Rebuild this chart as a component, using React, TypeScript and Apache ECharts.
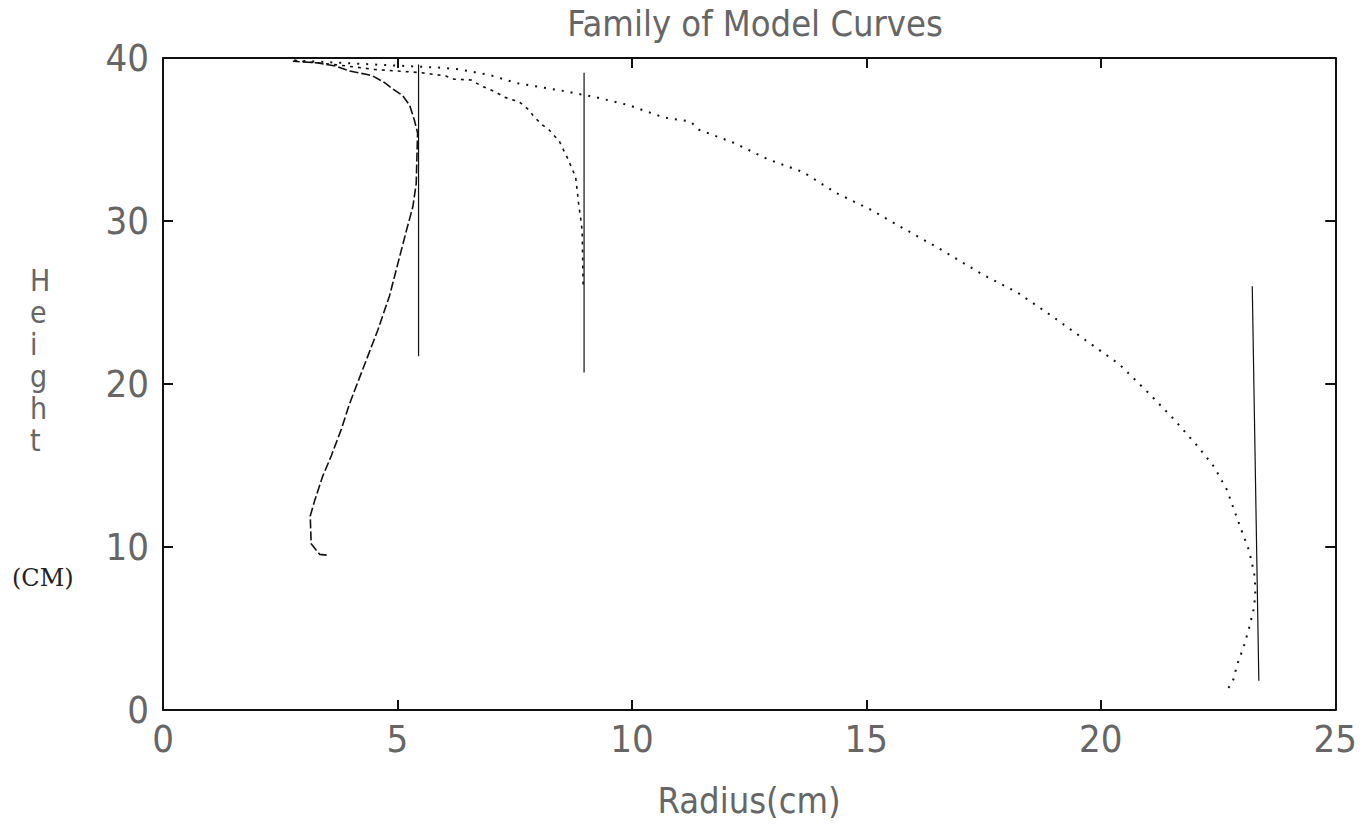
import React, { useEffect, useRef } from "react";
import * as echarts from "echarts";

// Axis ranges / ticks
const radiusMin = 0;
const radiusMax = 25;
const radiusStep = 5;
const heightMin = 0;
const heightMax = 40;
const heightStep = 10;

// Model curve 1 (dashed, smallest)
const curve1R = [3.49, 3.34, 3.27, 3.16, 3.14, 3.23, 3.40, 3.59, 3.80, 3.98, 4.26, 4.58, 4.83, 5.01, 5.19, 5.33, 5.40, 5.42, 5.43, 5.36, 5.26, 5.11, 4.90, 4.72, 4.47, 4.33, 3.98, 3.69, 3.30, 2.77];
const curve1H = [9.5, 9.55, 9.8, 10.2, 11.9, 12.8, 14.3, 15.6, 17.2, 18.8, 20.9, 23.3, 25.4, 27.4, 29.4, 30.9, 32.3, 34.4, 35.4, 36.2, 37.1, 37.7, 38.1, 38.5, 38.9, 39.0, 39.2, 39.5, 39.7, 39.8];

// Model curve 2 (dash-dot, middle)
const curve2R = [2.8, 3.8, 4.5, 5.5, 6.03, 6.21, 6.57, 6.78, 7.10, 7.28, 7.60, 7.81, 7.91, 8.09, 8.23, 8.45, 8.62, 8.80, 8.84, 8.87, 8.91, 8.94, 8.96];
const curve2H = [39.85, 39.55, 39.3, 39.1, 38.9, 38.7, 38.65, 38.3, 37.9, 37.6, 37.3, 36.8, 36.4, 35.9, 35.6, 34.9, 33.9, 32.7, 31.7, 30.9, 30.1, 29.4, 26.0];

// Model curve 3 (dotted, largest)
const curve3R = [2.8, 4.5, 5.96, 6.32, 6.96, 7.56, 8.5, 9.22, 9.94, 10.68, 11.25, 11.43, 12.17, 12.89, 13.65, 14.37, 15.09, 15.82, 16.56, 17.49, 18.23, 18.94, 19.67, 20.40, 21.07, 21.57, 22.06, 22.42, 22.69, 22.99, 23.16, 23.27, 23.30, 23.27, 23.16, 23.05, 22.91, 22.81, 22.63];
const curve3H = [39.85, 39.6, 39.4, 39.3, 38.96, 38.45, 38.0, 37.6, 37.1, 36.35, 36.1, 35.6, 34.8, 33.8, 33.0, 31.7, 30.7, 29.5, 28.3, 26.7, 25.6, 24.2, 22.7, 21.2, 19.3, 17.8, 16.2, 14.9, 13.5, 11.1, 9.8, 8.4, 7.4, 6.3, 5.0, 3.9, 2.8, 1.7, 1.0];

// Vertical reference lines
const line1R = [5.45, 5.45];
const line1H = [21.7, 39.6];
const line2R = [8.98, 8.98];
const line2H = [20.7, 39.1];
const line3R = [23.23, 23.37];
const line3H = [26.0, 1.8];

const zip = (r: number[], h: number[]) => r.map((v, i) => [v, h[i]]);

const labelFont = "'Liberation Sans Narrow', 'DejaVu Sans Condensed', sans-serif";

export default function App() {
  const ref = useRef<HTMLDivElement>(null);
  useEffect(() => {
    if (!ref.current) return;
    const chart = echarts.init(ref.current, undefined, { renderer: "svg" });
    const axisLine = () => ({ show: true, onZero: false, lineStyle: { color: "#111", width: 2 } });
    const tick = () => ({ show: true, inside: true, length: 10, lineStyle: { color: "#111", width: 2 } });
    const lineSeries = (name: string, data: number[][], type: any, width = 1.6) => ({
      name,
      type: "line",
      data,
      showSymbol: false,
      symbol: "none",
      smooth: false,
      lineStyle: { color: "#111", width, type },
      xAxisIndex: 0,
      yAxisIndex: 0,
    });
    chart.setOption({
      animation: false,
      backgroundColor: "#fff",
      title: {
        text: "Family of Model Curves",
        left: 750,
        textAlign: "center",
        top: 0,
        textStyle: { fontFamily: labelFont, fontSize: 36, fontWeight: "normal", color: "#666" },
      },
      grid: { left: 163, right: 22, top: 58, bottom: 116 },
      xAxis: [
        {
          type: "value",
          position: "bottom",
          min: radiusMin,
          max: radiusMax,
          interval: radiusStep,
          axisLine: axisLine(),
          axisTick: tick(),
          splitLine: { show: false },
          axisLabel: { fontFamily: labelFont, fontSize: 38, color: "#666", margin: 10 },
          name: "Radius(cm)",
          nameLocation: "middle",
          nameGap: 72,
          nameTextStyle: { fontFamily: labelFont, fontSize: 36, color: "#666" },
        },
        {
          type: "value",
          position: "top",
          min: radiusMin,
          max: radiusMax,
          interval: radiusStep,
          axisLine: axisLine(),
          axisTick: tick(),
          splitLine: { show: false },
          axisLabel: { show: false },
        },
      ],
      yAxis: [
        {
          type: "value",
          position: "left",
          min: heightMin,
          max: heightMax,
          interval: heightStep,
          axisLine: axisLine(),
          axisTick: tick(),
          splitLine: { show: false },
          axisLabel: { fontFamily: labelFont, fontSize: 38, color: "#666", margin: 14 },
        },
        {
          type: "value",
          position: "right",
          min: heightMin,
          max: heightMax,
          interval: heightStep,
          axisLine: axisLine(),
          axisTick: tick(),
          splitLine: { show: false },
          axisLabel: { show: false },
        },
      ],
      graphic: [
        {
          type: "text",
          left: 30,
          top: 264,
          style: {
            text: "H\ne\ni\ng\nh\nt",
            fontFamily: labelFont,
            fontSize: 30,
            lineHeight: 32,
            fill: "#666",
            align: "center",
          },
        },
        {
          type: "text",
          left: 12,
          top: 566,
          style: {
            text: "(CM)",
            fontFamily: "'DejaVu Serif', serif",
            fontSize: 24,
            fill: "#222",
          },
        },
      ],
      series: [
        lineSeries("Model 1", zip(curve1R, curve1H), [9, 3]),
        lineSeries("Model 2", zip(curve2R, curve2H), [3, 5]),
        lineSeries("Model 3", zip(curve3R, curve3H), [2, 7], 2),
        lineSeries("Line 1", zip(line1R, line1H), "solid", 1.2),
        lineSeries("Line 2", zip(line2R, line2H), "solid", 1.2),
        lineSeries("Line 3", zip(line3R, line3H), "solid", 1.2),
      ],
    });
    return () => chart.dispose();
  }, []);
  return <div ref={ref} style={{ width: 1360, height: 826, position: "absolute", left: 0, top: 0 }} />;
}
